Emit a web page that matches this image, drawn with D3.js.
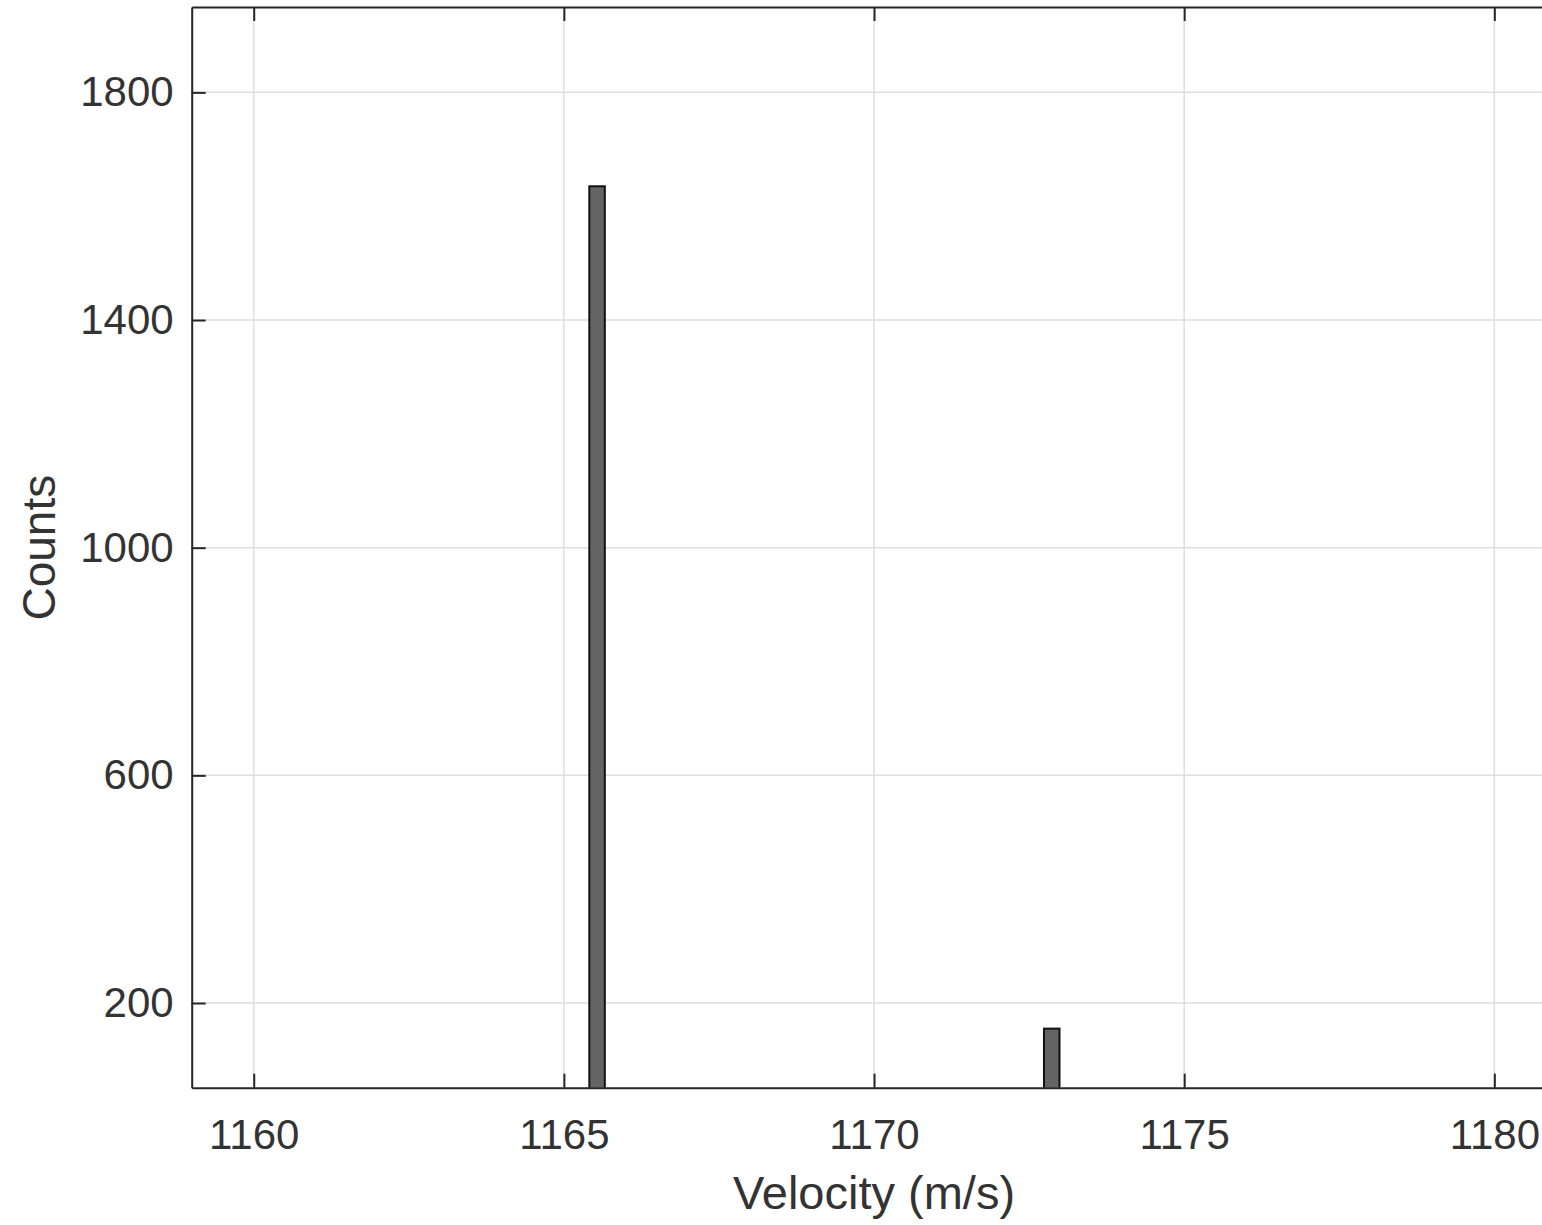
<!DOCTYPE html>
<html>
<head>
<meta charset="utf-8">
<script src="https://cdn.jsdelivr.net/npm/d3@7"></script>
<style>
  body { margin: 0; background: #fff; }
  svg { display: block; font-family: "Liberation Sans", Arial, sans-serif; }
</style>
</head>
<body>
<svg id="chart" width="1542" height="1225"></svg>
<script>
'use strict';

// Histogram bins (m/s) and counts
var binEdges = [[1165.41, 1165.66], [1172.74, 1172.99]];
var binCounts = [1635, 155];
var xTicks = [1160, 1165, 1170, 1175, 1180];
var yTicks = [200, 600, 1000, 1400, 1800];
var xLabel = 'Velocity (m/s)';
var yLabel = 'Counts';

(function() {
  var svg = d3.select('#chart');
  var plotLeft = 191.7, plotTop = 7, plotBottom = 1087.7;
  var pxPerUnit = 62.03;
  var axisColor = '#262626';
  var textColor = '#333333';

  var x = d3.scaleLinear().domain([1159, 1181]).range([plotLeft, plotLeft + 22 * pxPerUnit]);
  var y = d3.scaleLinear().domain([51.2, 1950]).range([plotBottom, plotTop]);

  // grid
  var grid = svg.append('g').attr('class', 'grid');
  grid.selectAll('line.gx').data(xTicks).enter().append('line')
    .attr('class', 'gx')
    .attr('x1', x).attr('x2', x).attr('y1', plotTop).attr('y2', plotBottom)
    .attr('stroke', '#dedede').attr('stroke-width', 1.5);
  grid.selectAll('line.gy').data(yTicks).enter().append('line')
    .attr('class', 'gy')
    .attr('y1', y).attr('y2', y).attr('x1', plotLeft).attr('x2', 1542)
    .attr('stroke', '#dedede').attr('stroke-width', 1.5);

  // bars
  svg.append('clipPath').attr('id', 'plotclip')
    .append('rect').attr('x', plotLeft).attr('y', plotTop)
    .attr('width', 1542 - plotLeft).attr('height', plotBottom - plotTop);

  svg.append('g').attr('clip-path', 'url(#plotclip)')
    .selectAll('rect.bar').data(binCounts).enter().append('rect')
    .attr('class', 'bar')
    .attr('x', function(d, i) { return x(binEdges[i][0]); })
    .attr('width', function(d, i) { return x(binEdges[i][1]) - x(binEdges[i][0]); })
    .attr('y', function(d) { return y(d); })
    .attr('height', function(d) { return plotBottom - y(d) + 5; })
    .attr('fill', '#646464')
    .attr('stroke', '#111')
    .attr('stroke-width', 2);

  // axes, MATLAB style with ticks pointing in
  var xAxis = d3.axisBottom(x).tickValues(xTicks).tickSizeInner(-14).tickSizeOuter(0)
    .tickPadding(31).tickFormat(d3.format('d'));
  var xAxisTop = d3.axisTop(x).tickValues(xTicks).tickSizeInner(-14).tickSizeOuter(0).tickFormat('');
  var yAxis = d3.axisLeft(y).tickValues(yTicks).tickSizeInner(-14).tickSizeOuter(0)
    .tickPadding(18).tickFormat(d3.format('d'));

  function styleAxis(g) {
    g.select('.domain').attr('stroke', axisColor).attr('stroke-width', 2);
    g.selectAll('.tick line').attr('stroke', axisColor).attr('stroke-width', 2);
    g.selectAll('.tick text').attr('fill', textColor).style('font-size', '42px')
      .style('font-family', '"Liberation Sans", Arial, sans-serif');
  }

  svg.append('g').attr('transform', 'translate(0,' + plotBottom + ')').call(xAxis).call(styleAxis);
  svg.append('g').attr('transform', 'translate(0,' + plotTop + ')').call(xAxisTop).call(styleAxis);
  svg.append('g').attr('transform', 'translate(' + plotLeft + ',0)').call(yAxis).call(styleAxis);

  // labels
  svg.append('text')
    .attr('x', x(1170)).attr('y', 1209)
    .attr('text-anchor', 'middle')
    .attr('fill', textColor)
    .style('font-size', '47px')
    .text(xLabel);

  svg.append('text')
    .attr('transform', 'translate(55,' + y(1000) + ') rotate(-90)')
    .attr('text-anchor', 'middle')
    .attr('fill', textColor)
    .style('font-size', '46px')
    .text(yLabel);
})();
</script>
</body>
</html>
